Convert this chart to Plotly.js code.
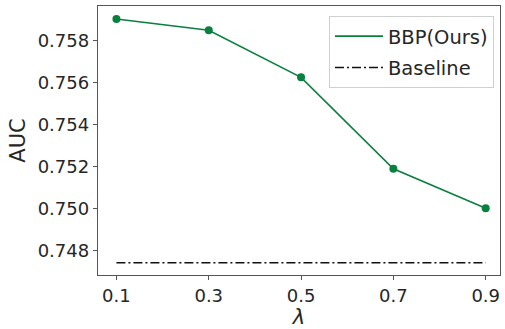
<!DOCTYPE html>
<html>
<head>
<meta charset="utf-8">
<script src="https://cdn.plot.ly/plotly-3.0.1.min.js"></script>
<style>html,body{margin:0;padding:0;background:#fff;}#chart{width:505px;height:329px;}</style>
</head>
<body>
<div id="chart"></div>
<script>
const lambdas = [0.1, 0.3, 0.5, 0.7, 0.9];
const bbpAUC = [0.75901, 0.75848, 0.75624, 0.75189, 0.75002];
const baselineAUC = [0.74743, 0.74743, 0.74743, 0.74743, 0.74743];
const xTickLabels = ["0.1", "0.3", "0.5", "0.7", "0.9"];
const yTicks = [0.748, 0.750, 0.752, 0.754, 0.756, 0.758];

const font = "DejaVu Sans, sans-serif";
const green = "#0a803f";
const traces = [
  {
    x: lambdas, y: bbpAUC, name: "BBP(Ours)", mode: "lines", legendgroup: "a",
    line: {color: green, width: 1.6}
  },
  {
    x: lambdas, y: bbpAUC, name: "BBP(Ours)", mode: "markers", legendgroup: "a", showlegend: false,
    marker: {color: green, size: 8}
  },
  {
    x: lambdas, y: baselineAUC, name: "Baseline", mode: "lines", legendgroup: "b",
    line: {color: "#111111", width: 1.5, dash: "9px,3px,2px,3px"}
  }
];
const axisCommon = {
  showgrid: false, zeroline: false, showline: true, mirror: true,
  linecolor: "#555555", linewidth: 1.2, ticks: "outside", ticklen: 4,
  tickcolor: "#555555", tickwidth: 1,
  tickfont: {family: font, size: 18, color: "#262626"}
};
const layout = {
  width: 505, height: 329,
  margin: {l: 98, r: 5, t: 6, b: 54},
  paper_bgcolor: "#fff", plot_bgcolor: "#fff",
  showlegend: true,
  legend: {
    x: 0.985, y: 0.963, xanchor: "right", yanchor: "top",
    bgcolor: "#fff", bordercolor: "#d0d0d0", borderwidth: 1,
    font: {family: font, size: 19.5, color: "#262626"},
    traceorder: "grouped", tracegroupgap: 3, itemwidth: 48
  },
  xaxis: Object.assign({}, axisCommon, {
    range: [0.0601, 0.931],
    tickvals: lambdas, ticktext: xTickLabels,
    title: {text: "<i>λ</i>", font: {family: font, size: 21, color: "#262626"}, standoff: 2}
  }),
  yaxis: Object.assign({}, axisCommon, {
    range: [0.746845, 0.75963],
    tickvals: yTicks, tickformat: ".3f",
    title: {text: "AUC", font: {family: font, size: 21, color: "#262626"}, standoff: 6}
  })
};
Plotly.newPlot("chart", traces, layout, {displayModeBar: false, staticPlot: true});
</script>
</body>
</html>
